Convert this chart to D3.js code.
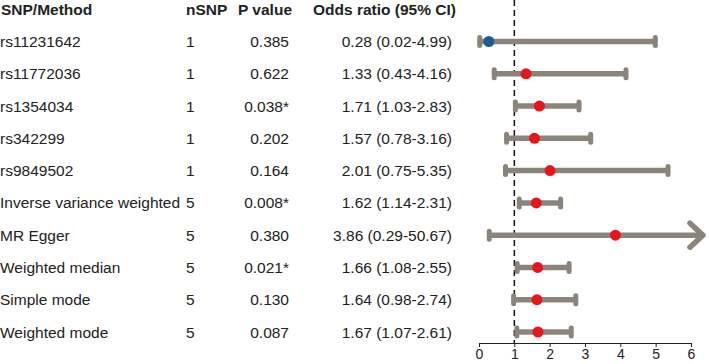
<!DOCTYPE html>
<html>
<head>
<meta charset="utf-8">
<script src="https://cdn.jsdelivr.net/npm/d3@7"></script>
<style>
  body { margin: 0; background: #fff; }
  text { font-family: "Liberation Sans", Arial, sans-serif; fill: #222; }
</style>
</head>
<body>
<div id="canvas"></div>
<script>
"use strict"

// data
let methods = ["rs11231642", "rs11772036", "rs1354034", "rs342299", "rs9849502",
  "Inverse variance weighted", "MR Egger", "Weighted median", "Simple mode", "Weighted mode"];
let nSnp = [1, 1, 1, 1, 1, 5, 5, 5, 5, 5];
let pValues = ["0.385", "0.622", "0.038*", "0.202", "0.164", "0.008*", "0.380", "0.021*", "0.130", "0.087"];
let oddsRatio = [0.28, 1.33, 1.71, 1.57, 2.01, 1.62, 3.86, 1.66, 1.64, 1.67];
let ciLow = [0.02, 0.43, 1.03, 0.78, 0.75, 1.14, 0.29, 1.08, 0.98, 1.07];
let ciHigh = [4.99, 4.16, 2.83, 3.16, 5.35, 2.31, 50.67, 2.55, 2.74, 2.61];
let xTicks = [0, 1, 2, 3, 4, 5, 6];

let svgWidth = 709;
let svgHeight = 364;

let grey = "#8b847a";
let red = "#e8161c";
let blue = "#1d5a96";

let svg = d3.select("#canvas")
  .append("svg")
  .attr("width", svgWidth)
  .attr("height", svgHeight);

let rows = methods.map(function (m, i) {
  return { method: m, n: nSnp[i], p: pValues[i], or: oddsRatio[i], lo: ciLow[i], hi: ciHigh[i] };
});

// scales
let xScale = d3.scaleLinear()
  .domain([0, 6])
  .range([479, 691]);

let yScale = d3.scalePoint()
  .domain(methods)
  .range([41.5, 332]);

let xEnd = 706; // where clipped CIs stop (arrow tip)
let axisY = 343;

// header
let headers = [
  { t: "SNP/Method", x: 1 },
  { t: "nSNP", x: 186 },
  { t: "P value", x: 238 },
  { t: "Odds ratio (95% CI)", x: 313 }
];
svg.selectAll("text.head")
  .data(headers)
  .join("text")
  .attr("class", "head")
  .attr("x", d => d.x)
  .attr("y", 15)
  .style("font-weight", "bold")
  .style("font-size", "15.5px")
  .text(d => d.t);

// table columns
function column(cls, x, anchor, fn) {
  svg.selectAll("text." + cls)
    .data(rows)
    .join("text")
    .attr("class", cls)
    .attr("x", x)
    .attr("y", d => yScale(d.method) + 5.5)
    .attr("text-anchor", anchor)
    .style("font-size", "15.5px")
    .text(fn);
}
column("meth", 0, "start", d => d.method);
column("nsnp", 186, "start", d => d.n);
column("pval", 289, "end", d => d.p);
column("ci", 452, "end", d => d.or.toFixed(2) + " (" + d.lo.toFixed(2) + "-" + d.hi.toFixed(2) + ")");

// reference line at OR = 1
svg.append("line")
  .attr("x1", xScale(1))
  .attr("x2", xScale(1))
  .attr("y1", 0)
  .attr("y2", axisY)
  .attr("stroke", "#111")
  .attr("stroke-width", 1.5)
  .attr("stroke-dasharray", "6,4");

// CI bars
let bars = svg.append("g");
bars.selectAll("line.ci")
  .data(rows)
  .join("line")
  .attr("class", "ci")
  .attr("x1", d => xScale(d.lo))
  .attr("x2", d => d.hi > 6 ? xEnd - 2 : xScale(d.hi))
  .attr("y1", d => yScale(d.method))
  .attr("y2", d => yScale(d.method))
  .attr("stroke", grey)
  .attr("stroke-width", 5.5);

// caps
let caps = [];
rows.forEach(function (d) {
  caps.push({ v: d.lo, y: yScale(d.method) });
  if (d.hi <= 6) caps.push({ v: d.hi, y: yScale(d.method) });
});
bars.selectAll("rect.cap")
  .data(caps)
  .join("rect")
  .attr("class", "cap")
  .attr("x", d => xScale(d.v) - 2.5)
  .attr("y", d => d.y - 6.5)
  .attr("width", 5)
  .attr("height", 13)
  .attr("rx", 2.5)
  .attr("fill", grey);

// arrow heads for clipped upper limits
bars.selectAll("path.arrow")
  .data(rows.filter(d => d.hi > 6))
  .join("path")
  .attr("class", "arrow")
  .attr("d", function (d) {
    let y = yScale(d.method);
    return "M" + (xEnd - 16) + "," + (y - 12) + "L" + (xEnd - 3) + "," + y + "L" + (xEnd - 16) + "," + (y + 12);
  })
  .attr("fill", "none")
  .attr("stroke", grey)
  .attr("stroke-width", 5.5)
  .attr("stroke-linecap", "round")
  .attr("stroke-linejoin", "round");

// points
svg.selectAll("circle")
  .data(rows)
  .join("circle")
  .attr("cx", d => xScale(d.or))
  .attr("cy", d => yScale(d.method))
  .attr("r", 5.5)
  .attr("fill", d => d.or < 1 ? blue : red);

// x axis
let axis = svg.append("g")
  .attr("transform", "translate(0," + axisY + ")")
  .call(d3.axisBottom(xScale).tickValues(xTicks).tickFormat(d3.format("d")).tickSize(4).tickSizeOuter(0));
axis.select(".domain").attr("stroke", "#222");
axis.selectAll(".tick line").attr("stroke", "#222");
axis.selectAll(".tick text")
  .attr("y", 6)
  .style("font-family", "Liberation Sans, Arial, sans-serif")
  .style("font-size", "14px")
  .attr("fill", "#222");
</script>
</body>
</html>
